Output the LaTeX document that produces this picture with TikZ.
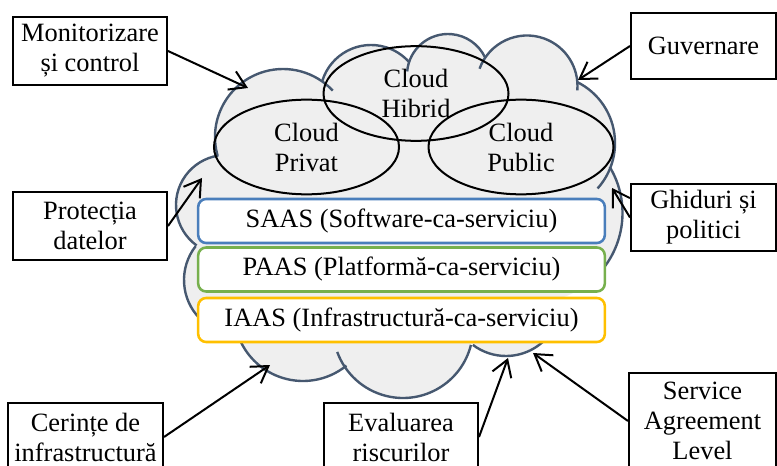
\documentclass[tikz,border=0pt]{standalone}
\usepackage{fontspec}
\setmainfont{Liberation Serif}
\usepackage{xcolor}
\usetikzlibrary{shapes.geometric, arrows.meta}

\definecolor{cloudfill}{RGB}{239,239,239}
\definecolor{cloudedge}{RGB}{70,88,112}
\definecolor{saasblue}{RGB}{74,126,187}
\definecolor{paasgreen}{RGB}{119,176,77}
\definecolor{iaasgold}{RGB}{255,192,0}

\begin{document}
\begin{tikzpicture}[x=0.75pt, y=-0.75pt,
                    font=\fontsize{19.8pt}{22.5pt}\selectfont,
                    note/.style = {draw, line width=1.5pt, fill=white,
                                   align=center, inner sep=0pt},
                    model/.style = {draw, ellipse, line width=1.5pt,
                                    align=center, inner sep=0pt,
                                    minimum width=138.75pt, minimum height=71pt},
                    layer/.style = {draw=#1, rounded corners=6pt, line width=1.9pt,
                                    fill=white, inner sep=0pt,
                                    minimum width=305pt, minimum height=33pt},
                    link/.style = {line width=1.5pt,
                                   -{Straight Barb[length=12pt, width=15pt]}}]

  \clip (0,0) rectangle (777,466);

  % cloud body: bumps plus the core between their centres
  \foreach \cx/\cy/\r in {283/137/68, 371/96/51, 448/75/41, 527/86/50.5,
                          547/143/68, 533/213/89.5, 506/301/55, 403/328/70,
                          303/312/69, 239/280/55, 226/205/50}
    \fill[cloudfill] (\cx,\cy) circle[radius=\r];
  \fill[cloudfill] (283,137) -- (371,96) -- (448,75) -- (527,86) -- (547,143)
    -- (533,213) -- (506,301) -- (403,328) -- (303,312) -- (239,280)
    -- (226,205) -- cycle;

  % outline of every bump
  \foreach \cx/\cy/\r/\a/\b in {283/137/68/164/317, 371/96/51/197/318,
                                448/75/41/185/334, 527/86/50.5/200/365,
                                547/143/68/296/402, 533/213/89.5/329/405,
                                506/301/55/30/127, 403/328/70/14/160,
                                303/312/69/51/160, 239/280/55/135/218,
                                226/205/50/126/261}
    \draw[cloudedge, line width=1.8pt]
      (\cx,\cy) ++(\a:\r) arc[start angle=\a, end angle=\b, radius=\r];

  \node (privat) [model] at (306.5,147) {Cloud\\Privat};
  \node (hibrid) [model] at (416,93.5) {Cloud\\Hibrid};
  \node (public) [model] at (521,147) {Cloud\\Public};

  \node (saas) [layer=saasblue] at (401.5,221) {SAAS (Software-ca-serviciu)};
  \node (paas) [layer=paasgreen] at (401.5,269.5) {PAAS (Platformă-ca-serviciu)};
  \node (iaas) [layer=iaasgold] at (401.5,320) {IAAS (Infrastructură-ca-serviciu)};

  \node (monit) [note, minimum width=115.5pt, minimum height=51pt]
    at (90,51) {Monitorizare\\și control};
  \node (guvern) [note, minimum width=108.75pt, minimum height=49.5pt]
    at (703.5,46) {Guvernare};
  \node (protect) [note, minimum width=115.5pt, minimum height=51pt]
    at (90,226) {Protecția\\datelor};
  \node (ghid) [note, minimum width=108.75pt, minimum height=50.25pt]
    at (703.5,217.5) {Ghiduri și\\politici};
  \node (cerinte) [note, minimum width=116.25pt, minimum height=51pt]
    at (85.5,437) {Cerințe de\\infrastructură};
  \node (evaluare) [note, minimum width=115.5pt, minimum height=51pt]
    at (401,437) {Evaluarea\\riscurilor};
  \node (sla) [note, minimum width=110.25pt, minimum height=72pt]
    at (702.5,421) {Service\\Agreement\\Level};

  \coordinate (tMonit) at (248,88);
  \coordinate (tGuvern) at (578,80);
  \coordinate (tProtect) at (202,178);
  \coordinate (tGhid) at (612,188);
  \coordinate (tCerinte) at (270,365);
  \coordinate (tEvaluare) at (508,358);
  \coordinate (tSla) at (533,353);

  \draw[link] (monit.east) -- (tMonit);
  \draw[link] (guvern.west) -- (tGuvern);
  \draw[link] (protect.east) -- (tProtect);
  \draw[link] (ghid.west) -- (tGhid);
  \draw[link] (cerinte.east) -- (tCerinte);
  \draw[link] (evaluare.east) -- (tEvaluare);
  \draw[link] (sla.west) -- (tSla);
\end{tikzpicture}
\end{document}
